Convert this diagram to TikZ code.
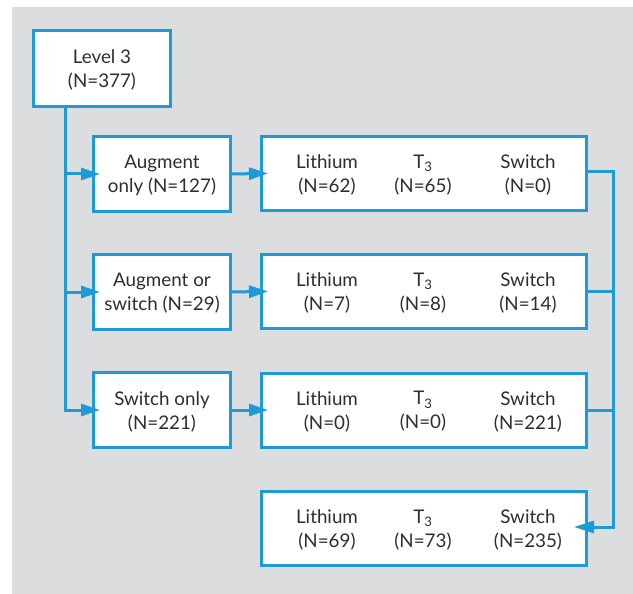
\documentclass[tikz,border=0pt]{standalone}
\usepackage{fontspec}
\setmainfont{Lato}
\usetikzlibrary{arrows.meta,calc}
\definecolor{bgray}{HTML}{DCDDDF}
\definecolor{lblue}{HTML}{1E9AD6}
\definecolor{tgray}{HTML}{2E2E2E}
\tikzset{
  box/.style={draw=lblue,line width=3pt,fill=white,inner sep=0pt},
  leftbox/.style={box,minimum width=137pt,minimum height=75pt},
  rightbox/.style={box,minimum width=325pt,minimum height=74pt},
  lbl/.style={text=tgray,align=center,font=\fontsize{18.8}{24}\selectfont,inner sep=0pt,yshift=-1.5pt},
  conn/.style={draw=lblue,line width=3pt},
  arr/.style={conn,-{Triangle[length=19pt,width=12pt]},shorten >=-8pt},
}
\begin{document}
\begin{tikzpicture}[x=1pt,y=-1pt]
\useasboundingbox (0,0) rectangle (633,594);
\fill[bgray] (12,7) rectangle (633,594);
% nodes
\node[leftbox,minimum height=76pt] (l3) at (102,68.5) {};
\node[lbl] (l3t) at (l3.center) {Level 3\\(N=377)};
\node[leftbox] (a1) at (162,174) {};
\node[leftbox] (a2) at (162,292) {};
\node[leftbox] (a3) at (162,410) {};
\node[lbl] (a1t) at (a1.center) {Augment\\only (N=127)};
\node[lbl] (a2t) at (a2.center) {Augment or\\switch (N=29)};
\node[lbl] (a3t) at (a3.center) {Switch only\\(N=221)};
\node[rightbox] (r1) at (424,173.5) {};
\node[rightbox] (r2) at (424,291.5) {};
\node[rightbox] (r3) at (424,410) {};
\node[rightbox] (r4) at (424,528.5) {};
\foreach \r/\a/\b/\c in {r1/62/65/0, r2/7/8/14, r3/0/0/221, r4/69/73/235}{
  \node[lbl] (\r li) at ($(\r.center)+(-97,0)$) {Lithium\\(N=\a)};
  \node[lbl] (\r t) at ($(\r.center)+(-1,0)$) {T\textsubscript{3}\\(N=\b)};
  \node[lbl] (\r sw) at ($(\r.center)+(104,0)$) {Switch\\(N=\c)};
}
% connectors
\coordinate (spT) at (65,106.5);
\coordinate (spB) at (65,411.5);
\draw[conn] (spT) -- (spB);
\draw[arr] (spT |- a1.west) -- (a1.west);
\draw[arr] (spT |- a2.west) -- (a2.west);
\draw[arr] (spT |- a3.west) -- (a3.west);
\draw[arr] (a1.east) -- (r1.west);
\draw[arr] (a2.east) -- (r2.west);
\draw[arr] (a3.east) -- (r3.west);
\coordinate (rtT) at (613,172);
\coordinate (rtB) at (613,527);
\draw[conn,-{Triangle[length=20pt,width=12pt]},shorten >=-14pt] (r1.east |- rtT) -- (rtT) -- (rtB) -- (r4.east |- rtB);
\draw[conn] (r2.east) -- (r2.east -| rtT);
\draw[conn] (r3.east) -- (r3.east -| rtT);
\end{tikzpicture}
\end{document}
